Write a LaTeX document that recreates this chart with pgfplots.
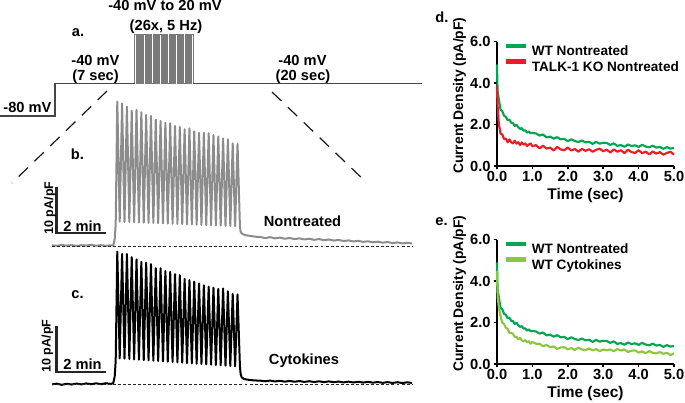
\documentclass[border=0pt]{standalone}
\usepackage{fontspec}
\setmainfont{Liberation Sans}
\usepackage{pgfplots}
\usepackage{pgfplotstable}
\pgfplotsset{compat=1.18}

\definecolor{wtgreen}{RGB}{0,166,81}
\definecolor{kored}{RGB}{237,28,36}
\definecolor{cytogreen}{RGB}{141,198,63}
\definecolor{tracegray}{RGB}{140,140,140}
\definecolor{protogray}{RGB}{70,70,70}

\newcommand\fA{\fontsize{11}{12}\selectfont\bfseries}
\newcommand\fL{\fontsize{10.2}{11}\selectfont\bfseries}
\newcommand\fT{\fontsize{11}{12}\selectfont\bfseries}
\newcommand\fX{\fontsize{11.6}{13}\selectfont\bfseries}
\newcommand\fY{\fontsize{10.4}{11}\selectfont\bfseries}
\newcommand\fS{\fontsize{9.4}{10}\selectfont\bfseries}

% decay of the tail current, time (sec) vs current density (pA/pF)
\pgfplotstableread{
t I
0.00 4.90
0.01 4.00
0.02 3.55
0.05 3.24
0.10 2.72
0.15 2.64
0.20 2.42
0.25 2.37
0.30 2.21
0.35 2.24
0.40 2.09
0.45 2.07
0.50 1.93
0.55 1.99
0.60 1.87
0.65 1.79
0.70 1.83
0.75 1.71
0.80 1.72
0.85 1.61
0.90 1.67
0.95 1.58
1.00 1.60
1.10 1.57
1.20 1.47
1.30 1.52
1.40 1.38
1.50 1.42
1.60 1.32
1.70 1.39
1.80 1.29
1.90 1.31
2.00 1.20
2.10 1.29
2.20 1.20
2.30 1.16
2.40 1.23
2.50 1.14
2.60 1.17
2.70 1.07
2.80 1.16
2.90 1.08
3.00 1.12
3.10 1.11
3.20 1.02
3.30 1.09
3.40 0.97
3.50 1.01
3.60 0.93
3.70 1.04
3.80 0.96
3.90 1.00
4.00 0.92
4.10 1.02
4.20 0.94
4.30 0.90
4.40 0.98
4.50 0.89
4.60 0.92
4.70 0.83
4.80 0.91
4.90 0.84
5.00 0.87
}\wtnt

\pgfplotstableread{
t I
0.00 3.84
0.01 3.20
0.02 2.80
0.05 2.06
0.10 1.56
0.15 1.52
0.20 1.30
0.25 1.32
0.30 1.14
0.35 1.28
0.40 1.15
0.45 1.09
0.50 1.22
0.55 1.08
0.60 1.15
0.65 1.01
0.70 1.14
0.75 1.03
0.80 1.09
0.85 0.96
0.90 1.04
0.95 1.09
1.00 0.95
1.10 1.01
1.20 0.85
1.30 0.98
1.40 0.84
1.50 0.89
1.60 0.75
1.70 0.92
1.80 0.80
1.90 0.76
2.00 0.89
2.10 0.75
2.20 0.82
2.30 0.69
2.40 0.83
2.50 0.73
2.60 0.81
2.70 0.69
2.80 0.78
2.90 0.84
3.00 0.71
3.10 0.79
3.20 0.65
3.30 0.80
3.40 0.69
3.50 0.76
3.60 0.62
3.70 0.79
3.80 0.67
3.90 0.63
4.00 0.76
4.10 0.62
4.20 0.69
4.30 0.56
4.40 0.70
4.50 0.60
4.60 0.67
4.70 0.55
4.80 0.63
4.90 0.69
5.00 0.55
}\kont

\pgfplotstableread{
t I
0.00 4.50
0.01 3.70
0.02 3.20
0.05 2.76
0.10 2.31
0.15 2.00
0.20 1.93
0.25 1.75
0.30 1.70
0.35 1.50
0.40 1.50
0.45 1.46
0.50 1.31
0.55 1.32
0.60 1.19
0.65 1.26
0.70 1.14
0.75 1.09
0.80 1.15
0.85 1.05
0.90 1.10
0.95 0.98
1.00 1.06
1.10 0.98
1.20 0.98
1.30 0.86
1.40 0.92
1.50 0.81
1.60 0.85
1.70 0.73
1.80 0.80
1.90 0.81
2.00 0.71
2.10 0.77
2.20 0.68
2.30 0.79
2.40 0.70
2.50 0.67
2.60 0.75
2.70 0.66
2.80 0.72
2.90 0.62
3.00 0.70
3.10 0.66
3.20 0.70
3.30 0.62
3.40 0.72
3.50 0.65
3.60 0.70
3.70 0.58
3.80 0.64
3.90 0.66
4.00 0.55
4.10 0.61
4.20 0.52
4.30 0.62
4.40 0.54
4.50 0.51
4.60 0.58
4.70 0.49
4.80 0.54
4.90 0.43
5.00 0.51
}\wtcyto

\pgfplotsset{
  decay/.style={
    scale only axis, width=132.75pt, height=93.25pt,
    xmin=0, xmax=5, ymin=0, ymax=6,
    clip=false,
    axis x line*=bottom, axis y line*=left,
    axis line style={line width=1.1pt, black},
    tick style={line width=1.1pt, black},
    tick align=outside, major tick length=2.6pt,
    xtick={0,1,2,3,4,5}, xticklabels={0.0,1.0,2.0,3.0,4.0,5.0},
    ytick={0,2,4,6}, yticklabels={0.0,2.0,4.0,6.0},
    tick label style={font=\fT},
    xticklabel style={inner sep=1pt},
    yticklabel style={inner sep=2pt},
    xlabel={Time (sec)}, ylabel={Current Density (pA/pF)},
    xlabel style={font=\fX, at={(rel axis cs:0.5,-0.234)}, anchor=center},
    ylabel style={font=\fY, at={(rel axis cs:-0.212,0.565)}, anchor=center, rotate=0},
    legend cell align=left,
    legend style={at={(0.034,0.985)}, anchor=north west, draw=none, fill=none,
      font=\fL, inner sep=0pt, row sep=2.3pt,
      nodes={inner sep=0pt, text height=7.4pt, text depth=0pt},
      /tikz/every odd column/.append style={column sep=3pt}},
    legend image code/.code={\draw[##1, line width=3.4pt] (0pt,3.7pt) -- (15pt,3.7pt);},
  },
  trace/.style={scale only axis, hide axis, clip=false, width=270pt, xmin=0, xmax=14.694},
}

\begin{document}
\begin{tikzpicture}
\path[use as bounding box] (0,0) rectangle (513.75pt,-302.25pt);

% a. voltage protocol (s, mV)
\begin{axis}[at={(0pt,-87pt)}, anchor=south west, scale only axis, hide axis, clip=false,
  width=316.5pt, height=61.5pt, xmin=-4.825, xmax=32.2, ymin=-80, ymax=20]
\addplot[protogray, line width=0.8pt] coordinates {(-4.825,-80) (0,-80) (0,-40) (7.0,-40)};
\addplot[black!52, line width=0.6pt] coordinates {
(7.0,-40)(7.0,20)(7.1,20)(7.1,-40)(7.2,-40)(7.2,20)(7.3,20)(7.3,-40)
(7.4,-40)(7.4,20)(7.5,20)(7.5,-40)(7.6,-40)(7.6,20)(7.7,20)(7.7,-40)
(7.8,-40)(7.8,20)(7.9,20)(7.9,-40)(8.0,-40)(8.0,20)(8.1,20)(8.1,-40)
(8.2,-40)(8.2,20)(8.3,20)(8.3,-40)(8.4,-40)(8.4,20)(8.5,20)(8.5,-40)
(8.6,-40)(8.6,20)(8.7,20)(8.7,-40)(8.8,-40)(8.8,20)(8.9,20)(8.9,-40)
(9.0,-40)(9.0,20)(9.1,20)(9.1,-40)(9.2,-40)(9.2,20)(9.3,20)(9.3,-40)
(9.4,-40)(9.4,20)(9.5,20)(9.5,-40)(9.6,-40)(9.6,20)(9.7,20)(9.7,-40)
(9.8,-40)(9.8,20)(9.9,20)(9.9,-40)(10.0,-40)(10.0,20)(10.1,20)(10.1,-40)
(10.2,-40)(10.2,20)(10.3,20)(10.3,-40)(10.4,-40)(10.4,20)(10.5,20)(10.5,-40)
(10.6,-40)(10.6,20)(10.7,20)(10.7,-40)(10.8,-40)(10.8,20)(10.9,20)(10.9,-40)
(11.0,-40)(11.0,20)(11.1,20)(11.1,-40)(11.2,-40)(11.2,20)(11.3,20)(11.3,-40)
(11.4,-40)(11.4,20)(11.5,20)(11.5,-40)(11.6,-40)(11.6,20)(11.7,20)(11.7,-40)
(11.8,-40)(11.8,20)(11.9,20)(11.9,-40)(12.0,-40)(12.0,20)(12.1,20)(12.1,-40)
(12.2,-40)};
\addplot[protogray, line width=0.8pt] coordinates {(12.1,-40) (32.2,-40)};
\end{axis}

% b. nontreated trace (min, pA/pF)
\begin{axis}[at={(39pt,-187.5pt)}, anchor=south west, trace, height=116.25pt, ymin=-0.87, ymax=32.83]
\addplot[tracegray, line width=1.5pt, line join=round] coordinates {
(0.00,0.15) (0.20,0.05) (0.40,0.22) (0.60,0.08) (0.80,0.20) (1.00,0.02) (1.20,0.18)
(1.40,0.10) (1.60,0.24) (1.80,0.06) (2.00,0.18) (2.20,0.04) (2.40,0.16) (2.50,0.10)
(2.56,1.50) (2.60,4.80)
(2.665,31.4) (2.763,5.30) (2.861,31.0) (2.959,5.25) (3.058,30.3) (3.156,5.22)
(3.254,29.4) (3.352,5.15) (3.450,29.6) (3.548,5.12) (3.647,29.1) (3.745,5.08)
(3.843,28.5) (3.941,5.02) (4.039,28.3) (4.137,5.00) (4.235,27.5) (4.333,4.95)
(4.432,27.2) (4.530,4.90) (4.628,26.8) (4.726,4.88) (4.824,26.7) (4.922,4.82)
(5.021,26.1) (5.119,4.80) (5.217,25.9) (5.315,4.75) (5.413,25.4) (5.511,4.70)
(5.610,25.6) (5.708,4.68) (5.806,24.9) (5.904,4.62) (6.002,24.6) (6.100,4.60)
(6.198,24.6) (6.296,4.55) (6.395,24.5) (6.493,4.50) (6.591,24.1) (6.689,4.48)
(6.787,23.8) (6.885,4.42) (6.984,23.4) (7.082,4.40) (7.180,23.2) (7.278,4.35)
(7.376,22.3) (7.474,4.28) (7.573,22.2) (7.671,4.20)
(7.70,3.10) (7.74,2.75) (7.82,2.50) (7.95,2.30) (8.10,2.18) (8.30,2.02)
(8.50,1.95) (8.70,1.72) (8.90,1.92) (9.10,1.66) (9.30,1.82) (9.50,1.58) (9.70,1.74)
(9.90,1.50) (10.10,1.66) (10.30,1.42) (10.50,1.58) (10.70,1.34) (10.90,1.50)
(11.10,1.26) (11.30,1.42) (11.50,1.18) (11.70,1.32) (11.90,1.08) (12.10,1.22)
(12.30,0.98) (12.50,1.12) (12.70,0.90) (12.90,1.02) (13.10,0.80) (13.30,0.94)
(13.50,0.72) (13.70,0.86) (13.90,0.64) (14.10,0.78) (14.30,0.56) (14.50,0.70) (14.69,0.55)};
\draw[black!85, line width=0.7pt, dash pattern=on 2.2pt off 1.6pt] (axis cs:0,0) -- (axis cs:14.694,0);
\draw[black!85, line width=2.2pt] (axis cs:0.2,12.83) -- (axis cs:0.2,2.83) -- (axis cs:2.2,2.83);
\end{axis}

% c. cytokine-treated trace (min, pA/pF)
\begin{axis}[at={(39pt,-291pt)}, anchor=south west, trace, height=107.25pt, ymin=-0.739, ymax=30.348]
\addplot[black, line width=1.5pt, line join=round] coordinates {
(0.00,0.05) (0.20,0.20) (0.40,-0.05) (0.60,0.18) (0.80,0.02) (1.00,0.22) (1.20,0.05)
(1.40,0.25) (1.60,0.08) (1.80,0.28) (2.00,0.10) (2.20,0.30) (2.40,0.15) (2.50,0.30)
(2.56,1.80) (2.60,5.20)
(2.665,28.9) (2.763,5.70) (2.861,28.4) (2.959,5.63) (3.058,28.4) (3.156,5.56)
(3.254,27.7) (3.352,5.48) (3.450,27.2) (3.548,5.41) (3.647,26.7) (3.745,5.34)
(3.843,26.5) (3.941,5.27) (4.039,26.2) (4.137,5.20) (4.235,25.3) (4.333,5.12)
(4.432,25.3) (4.530,5.05) (4.628,24.7) (4.726,4.98) (4.824,24.5) (4.922,4.91)
(5.021,24.0) (5.119,4.84) (5.217,23.8) (5.315,4.76) (5.413,23.0) (5.511,4.69)
(5.610,22.7) (5.708,4.62) (5.806,22.4) (5.904,4.55) (6.002,22.0) (6.100,4.48)
(6.198,21.6) (6.296,4.40) (6.395,21.3) (6.493,4.33) (6.591,21.1) (6.689,4.26)
(6.787,20.8) (6.885,4.19) (6.984,20.9) (7.082,4.12) (7.180,20.3) (7.278,4.04)
(7.376,19.7) (7.474,3.97) (7.573,19.6) (7.671,3.90)
(7.70,2.30) (7.74,1.60) (7.82,1.25) (7.95,1.10) (8.10,0.98) (8.30,0.90) (8.50,0.86)
(8.70,0.72) (8.90,0.88) (9.10,0.68) (9.30,0.84) (9.50,0.64) (9.70,0.80) (9.90,0.62)
(10.10,0.78) (10.30,0.58) (10.50,0.74) (10.70,0.56) (10.90,0.72) (11.10,0.54)
(11.30,0.70) (11.50,0.52) (11.70,0.66) (11.90,0.48) (12.10,0.64) (12.30,0.46)
(12.50,0.62) (12.70,0.44) (12.90,0.60) (13.10,0.42) (13.30,0.56) (13.50,0.38)
(13.70,0.54) (13.90,0.36) (14.10,0.52) (14.30,0.34) (14.50,0.50) (14.69,0.36)};
\draw[black!85, line width=0.7pt, dash pattern=on 2.2pt off 1.6pt] (axis cs:0,0) -- (axis cs:14.694,0);
\draw[black!85, line width=2.2pt] (axis cs:0.2,12.74) -- (axis cs:0.2,2.74) -- (axis cs:2.2,2.74);
\end{axis}

% d. WT vs TALK-1 KO
\begin{axis}[at={(372.75pt,-124.5pt)}, anchor=south west, decay]
\addplot[wtgreen, line width=1.6pt, line join=round] table[x=t, y=I] {\wtnt};
\addlegendentry{WT Nontreated}
\addplot[kored, line width=1.6pt, line join=round] table[x=t, y=I] {\kont};
\addlegendentry{TALK-1 KO Nontreated}
\end{axis}

% e. WT nontreated vs cytokines
\begin{axis}[at={(372.75pt,-273pt)}, anchor=south west, decay]
\addplot[wtgreen, line width=1.6pt, line join=round] table[x=t, y=I] {\wtnt};
\addlegendentry{WT Nontreated}
\addplot[cytogreen, line width=1.6pt, line join=round] table[x=t, y=I] {\wtcyto};
\addlegendentry{WT Cytokines}
\end{axis}

% labels and zoom guides, in pixel units of the layout
\begin{scope}[x=0.75pt, y=-0.75pt, font=\fA]
\draw[black!90, line width=0.9pt, dash pattern=on 9.75pt off 6.75pt] (107,91) -- (12,183);
\draw[black!90, line width=0.9pt, dash pattern=on 9.75pt off 6.75pt] (272,92) -- (367,183);
\node at (165,5.5) {-40 mV to 20 mV};
\node at (166,26.5) {(26x, 5 Hz)};
\node at (78,33) {a.};
\node at (95.5,60) {-40 mV};
\node at (95.5,76.5) {(7 sec)};
\node at (302.5,60) {-40 mV};
\node at (303,76.5) {(20 sec)};
\node at (27.5,107) {-80 mV};
\node at (77.5,154) {b.};
\node at (77.5,295) {c.};
\node at (302.5,221) {Nontreated};
\node at (304,361) {Cytokines};
\node[rotate=90, font=\fS] at (50,208) {10 pA/pF};
\node[rotate=90, font=\fS] at (47.5,346) {10 pA/pF};
\node at (82.5,226.5) {2 min};
\node at (82.5,364.5) {2 min};
\node at (442,17) {d.};
\node at (441.5,222) {e.};
\end{scope}
\end{tikzpicture}
\end{document}
